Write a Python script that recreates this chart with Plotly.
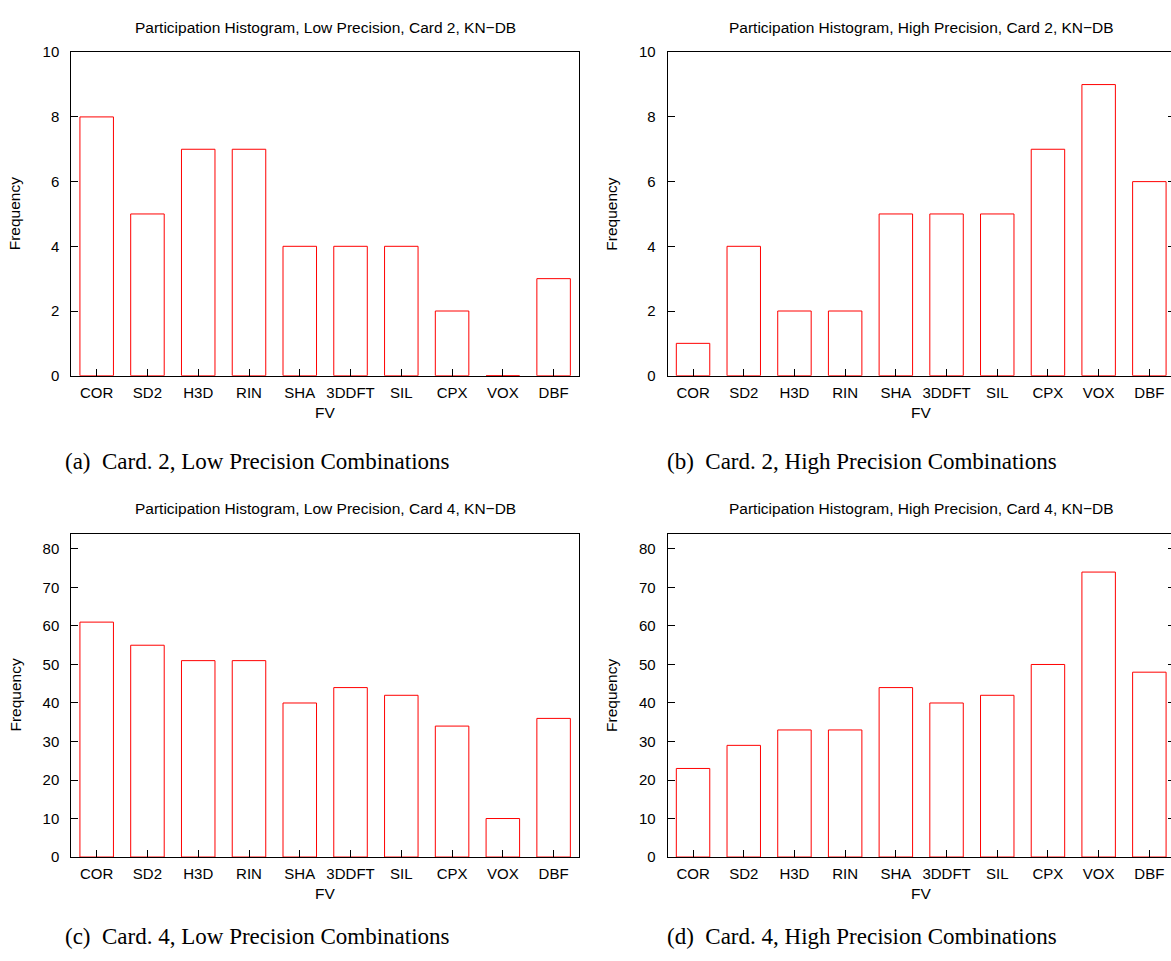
import plotly.graph_objects as go

# ---------------- data ----------------
categories = ["COR", "SD2", "H3D", "RIN", "SHA", "3DDFT", "SIL", "CPX", "VOX", "DBF"]
low_card2 = [8, 5, 7, 7, 4, 4, 4, 2, 0, 3]
high_card2 = [1, 4, 2, 2, 5, 5, 5, 7, 9, 6]
low_card4 = [61, 55, 51, 51, 40, 44, 42, 34, 10, 36]
high_card4 = [23, 29, 33, 33, 44, 40, 42, 50, 74, 48]

titles = [
    "Participation Histogram, Low Precision, Card 2, KN\u2212DB",
    "Participation Histogram, High Precision, Card 2, KN\u2212DB",
    "Participation Histogram, Low Precision, Card 4, KN\u2212DB",
    "Participation Histogram, High Precision, Card 4, KN\u2212DB",
]
captions = [
    "(a)  Card. 2, Low Precision Combinations",
    "(b)  Card. 2, High Precision Combinations",
    "(c)  Card. 4, Low Precision Combinations",
    "(d)  Card. 4, High Precision Combinations",
]
y_tickvals_card2 = [0, 2, 4, 6, 8, 10]
y_tickvals_card4 = [0, 10, 20, 30, 40, 50, 60, 70, 80]

# ---------------- layout geometry (pixels) ----------------
W, H = 1171, 961
SANS = "Liberation Sans, Arial, Helvetica, sans-serif"
SERIF = "Liberation Serif, Times New Roman, serif"
TICK_SIZE = 15
LABEL_SIZE = 15.5
CAPTION_SIZE = 23

panels = [
    dict(vals=low_card2, x0=71.3, x1=579.0, y0=44.0, y1=373.3, ymax=10, ticks=y_tickvals_card2),
    dict(vals=high_card2, x0=667.7, x1=1174.7, y0=44.0, y1=373.3, ymax=10, ticks=y_tickvals_card2),
    dict(vals=low_card4, x0=71.3, x1=579.0, y0=534.0, y1=863.3, ymax=84, ticks=y_tickvals_card4),
    dict(vals=high_card4, x0=667.7, x1=1174.7, y0=534.0, y1=863.3, ymax=84, ticks=y_tickvals_card4),
]
caption_y = [461, 461, 944, 944]
caption_left = [63, 665, 63, 665]

fig = go.Figure()
layout = dict(
    width=W, height=H,
    margin=dict(l=0, r=0, t=0, b=0),
    paper_bgcolor="white", plot_bgcolor="white",
    showlegend=False,
    font=dict(family=SANS, size=TICK_SIZE, color="black"),
)
annotations = []

for i, p in enumerate(panels):
    n = i + 1
    sfx = "" if n == 1 else str(n)
    clipped = p["x1"] > W
    xd1 = min(p["x1"], W)
    xmax = -0.5 + len(categories) * (xd1 - p["x0"]) / (p["x1"] - p["x0"])
    xdom = [p["x0"] / W, xd1 / W]
    ydom = [1 - p["y1"] / H, 1 - p["y0"] / H]

    fig.add_trace(go.Bar(
        x=categories, y=p["vals"], width=0.66,
        marker=dict(color="rgba(0,0,0,0)", line=dict(color="#ff0000", width=1)),
        xaxis="x" + sfx, yaxis="y" + sfx, hoverinfo="x+y",
    ))

    layout["xaxis" + sfx] = dict(
        domain=xdom, anchor="y" + sfx, type="category",
        range=[-0.5, xmax], showgrid=False, zeroline=False,
        showline=True, linecolor="black", linewidth=1, mirror=True,
        ticks="inside", ticklen=7, tickwidth=1, tickcolor="black",
        tickfont=dict(family=SANS, size=TICK_SIZE, color="black"),
        ticklabelstandoff=3,
    )
    layout["yaxis" + sfx] = dict(
        domain=ydom, anchor="x" + sfx, range=[0, p["ymax"]],
        tickvals=p["ticks"], showgrid=False, zeroline=False,
        showline=True, linecolor="black", linewidth=1,
        mirror=(not clipped),
        ticks="inside", ticklen=7, tickwidth=1, tickcolor="black",
        tickfont=dict(family=SANS, size=TICK_SIZE, color="black"),
        ticklabelstandoff=8,
    )
    if clipped:
        # right-hand inside ticks, whose axis line lies just beyond the page edge
        k = 4 + n
        layout["yaxis" + str(k)] = dict(
            domain=ydom, anchor="x" + sfx, overlaying="y" + sfx, side="right",
            range=[0, p["ymax"]], tickvals=p["ticks"], showticklabels=False,
            showgrid=False, zeroline=False, showline=False,
            ticks="inside", ticklen=3, tickwidth=1, tickcolor="black",
        )
        fig.add_trace(go.Scatter(x=[None], y=[None], xaxis="x" + sfx, yaxis="y" + str(k),
                                 showlegend=False, hoverinfo="skip"))

    cx = (p["x0"] + p["x1"]) / 2
    annotations.append(dict(text=titles[i], x=cx / W, y=1 - (p["y0"] - 25) / H,
                            xref="paper", yref="paper", showarrow=False,
                            xanchor="center", yanchor="middle",
                            font=dict(family=SANS, size=LABEL_SIZE, color="black")))
    annotations.append(dict(text="FV", x=cx / W, y=1 - (p["y1"] + 37) / H,
                            xref="paper", yref="paper", showarrow=False,
                            xanchor="center", yanchor="middle",
                            font=dict(family=SANS, size=LABEL_SIZE, color="black")))
    annotations.append(dict(text="Frequency", x=(p["x0"] - 56) / W,
                            y=1 - (p["y0"] + p["y1"]) / 2 / H,
                            xref="paper", yref="paper", showarrow=False, textangle=-90,
                            xanchor="center", yanchor="middle",
                            font=dict(family=SANS, size=LABEL_SIZE, color="black")))
    annotations.append(dict(text=captions[i], x=caption_left[i] / W, y=1 - caption_y[i] / H,
                            xref="paper", yref="paper", showarrow=False,
                            xanchor="left", yanchor="middle",
                            font=dict(family=SERIF, size=CAPTION_SIZE, color="black")))

layout["annotations"] = annotations
fig.update_layout(**layout)
fig.write_html("out.html")
